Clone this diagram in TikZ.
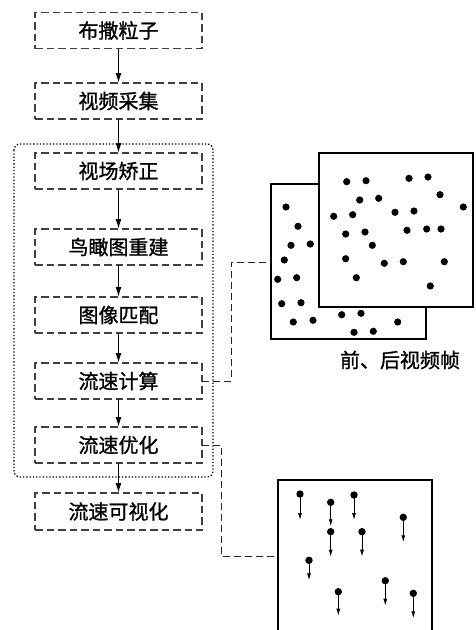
\documentclass[tikz,border=0pt]{standalone}
\usepackage{fontspec}
\setmainfont[FakeBold=1.2]{Noto Sans CJK SC}
\usetikzlibrary{arrows.meta}
\begin{document}
\begin{tikzpicture}[x=1pt,y=-1pt,
  stepbox/.style={draw=black!75, dash pattern=on 7.5pt off 4pt, line width=1.1pt,
    minimum width=167pt, minimum height=36pt, inner sep=0pt, outer sep=0pt,
    font=\fontsize{20}{23}\selectfont, text=black},
  flow/.style={line width=1.4pt, -{Latex[length=10pt,width=6pt]}},
  conn/.style={draw=black!85, dash pattern=on 7pt off 4pt, line width=1pt},
  frame/.style={draw=black, line width=1.6pt},
  pt/.style={fill=black, draw=none},
  vec/.style={line width=0.9pt, -{Latex[length=7pt,width=4pt]}}]
\useasboundingbox (0,0) rectangle (475,630);
\clip (0,0) rectangle (475,630);
% main steps
\node[stepbox] (b1) at (118.5,30.5) {布撒粒子};
\node[stepbox] (b2) at (118.5,101) {视频采集};
\node[stepbox] (b3) at (118.5,171) {视场矫正};
\node[stepbox] (b4) at (118.5,247) {鸟瞰图重建};
\node[stepbox] (b5) at (118.5,315) {图像匹配};
\node[stepbox] (b6) at (118.5,381) {流速计算};
\node[stepbox] (b7) at (118.5,445) {流速优化};
\node[stepbox, minimum height=37pt] (b8) at (118.5,511.5) {流速可视化};
\draw[flow] (b1) -- (b2);
\draw[flow] (b2) -- (b3);
\draw[flow] (b3) -- (b4);
\draw[flow] (b4) -- (b5);
\draw[flow] (b5) -- (b6);
\draw[flow] (b6) -- (b7);
\draw[flow] (b7) -- (b8);
% dotted group
\draw[line width=1.3pt, dotted, rounded corners=6pt] (14,144) rectangle (213,477);
% frames
\draw[frame] (271,184) rectangle (426,339);
\foreach \x/\y in {286/207,298/226.3,291/245.3,310.3/244,284.3/260,277.7/279.3,296.7/277.7,
  281.7/303.7,301/302.7,293.3/322,313/320.3,341.7/314.7,361/313.3,397.7/322,354/332.3,373.3/331.3}
  \fill[pt] (\x,\y) circle (3.6);
\draw[frame, fill=white] (319,153) rectangle (473,307);
\foreach \x/\y in {346.7/181.7,366/180.7,409/178.3,428/177,359.7/200,378.7/198.3,440/194.7,
  463.3/207,333.7/216.3,352.7/214.7,395/212.3,414/211,345.7/234,365/232,407/230.3,426.7/229,
  441/229,372.3/245.3,345.7/258.7,384.3/263.3,403.3/261.7,444.3/261.7,356.3/277.7,430.3/286}
  \fill[pt] (\x,\y) circle (3.6);
\node[font=\fontsize{20}{23}\selectfont] (lbl) at (400,360) {前、后视频帧};
% bottom frame
\draw[frame] (278,640) -- (278,480) -- (432,480) -- (432,640);
\foreach \x/\y/\l in {300/494/26,330.7/502.3/24,354/495/25,403.3/517.3/25,330.7/531.7/25,
  362/531.7/25,309/560.3/20,338.3/591.7/24,385.3/580.7/25,413.3/593.3/25}{
  \draw[vec] (\x,\y) -- ++(0,\l);
  \fill[pt] (\x,\y) circle (3.7);
}
% connectors
\coordinate (c1) at (271,262);
\coordinate (c2) at (278,556);
\draw[conn] (b6.east) -- (231,381) |- (c1);
\draw[conn] (b7.east) -- (221,445) |- (c2);
\end{tikzpicture}
\end{document}
